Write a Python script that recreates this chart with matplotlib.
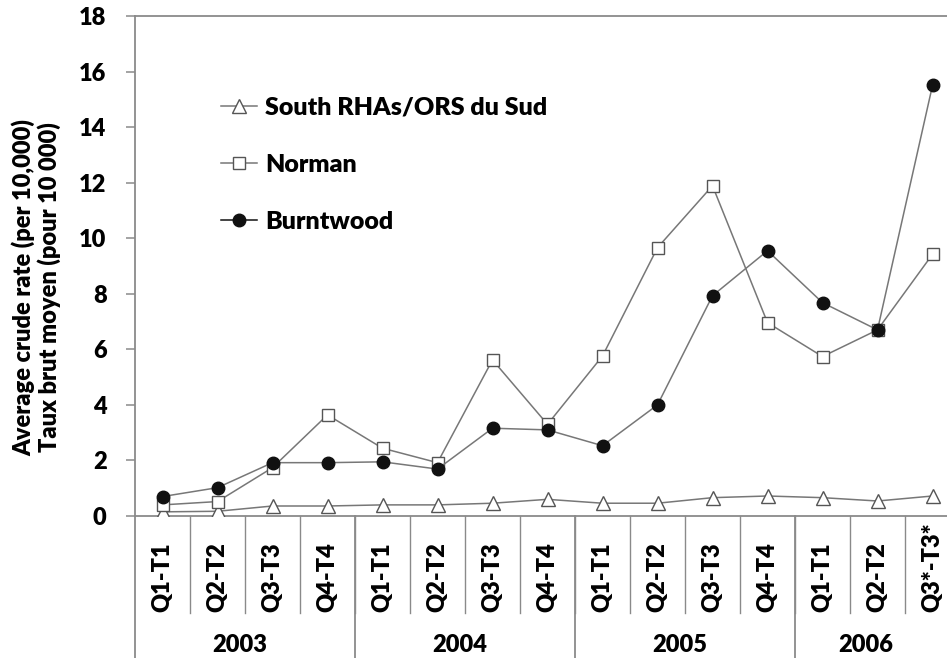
import numpy as np
import matplotlib
matplotlib.use("Agg")
import matplotlib.pyplot as plt
import matplotlib.transforms as mtransforms

plt.rcParams['font.family'] = ['Lato', 'DejaVu Sans']
plt.rcParams['font.weight'] = 'bold'

quarters = ['Q1-T1', 'Q2-T2', 'Q3-T3', 'Q4-T4',
            'Q1-T1', 'Q2-T2', 'Q3-T3', 'Q4-T4',
            'Q1-T1', 'Q2-T2', 'Q3-T3', 'Q4-T4',
            'Q1-T1', 'Q2-T2', 'Q3*-T3*']
years = ['2003', '2004', '2005', '2006']
year_sizes = [4, 4, 4, 3]

south = [0.15, 0.17, 0.36, 0.36, 0.40, 0.40, 0.46, 0.60,
         0.46, 0.46, 0.66, 0.72, 0.66, 0.54, 0.72]
norman = [0.40, 0.52, 1.74, 3.64, 2.44, 1.92, 5.62, 3.30,
          5.76, 9.66, 11.89, 6.96, 5.74, 6.70, 9.42]
burntwood = [0.70, 1.02, 1.92, 1.92, 1.95, 1.69, 3.16, 3.10,
             2.53, 4.00, 7.93, 9.55, 7.68, 6.70, 15.50]

line_col = '#777777'
axis_col = '#8a8a8a'
fw = 'heavy'

fig = plt.figure(figsize=(9.47, 6.58), dpi=100)
ax = fig.add_axes([135/947, 1-516/658, 812/947, 500/658])

x = np.arange(len(quarters))
ax.plot(x, south, color=line_col, lw=1.1, marker='^', ms=9.5, mfc='white',
        mec='#555555', mew=1.0, label='South RHAs/ORS du Sud', zorder=3)
ax.plot(x, norman, color=line_col, lw=1.1, marker='s', ms=8.5, mfc='white',
        mec='#555555', mew=1.0, label='Norman', zorder=4)
ax.plot(x, burntwood, color=line_col, lw=1.1, marker='o', ms=9, mfc='#111111',
        mec='#111111', label='Burntwood', zorder=5)

xmax = -0.5 + 812/55
ax.set_xlim(-0.5, xmax)
ax.set_ylim(0, 18)
ax.set_yticks(np.arange(0, 19, 2))
ax.set_xticks([])
ax.tick_params(axis='y', direction='out', length=6.5, width=1.1, color=axis_col,
               pad=14, labelsize=17)
for lab in ax.get_yticklabels():
    lab.set_fontweight(fw)
ax.spines['right'].set_visible(False)
for s in ['left', 'top', 'bottom']:
    ax.spines[s].set_color(axis_col)
    ax.spines[s].set_linewidth(1.3)

leg = ax.legend(loc='upper left', bbox_to_anchor=(0.106, 0.838), frameon=False,
                prop={'size': 18, 'weight': fw}, handlelength=1.45, handletextpad=0.3,
                labelspacing=1.4, borderpad=0, borderaxespad=0)
leg.legend_handles[2].set_color('#111111')

ax.text(-0.121, 0.457, 'Average crude rate (per 10,000)\nTaux brut moyen (pour 10 000)',
        transform=ax.transAxes, rotation=90, ha='center', va='center',
        multialignment='center', fontsize=17, fontweight=fw, linespacing=1.1)

# category axis below the plot
trans = mtransforms.blended_transform_factory(ax.transData, ax.transAxes)
px = 1/500
for i in range(1, len(quarters)):
    ax.plot([i-0.5, i-0.5], [0, -97*px], color=axis_col, lw=1.0,
            transform=trans, clip_on=False)
for i, q in enumerate(quarters):
    ax.text(i, -96*px, q, transform=trans, rotation=90, ha='center', va='bottom',
            fontsize=17, fontweight=fw)

start = 0
for yr, n in zip(years, year_sizes):
    ax.plot([start-0.5, start-0.5], [0, -150*px], color=axis_col, lw=1.3,
            transform=trans, clip_on=False)
    right = min(start + 3.5, xmax)
    ax.text((start - 0.5 + right) / 2 - 0.1, -129*px, yr, transform=trans,
            ha='center', va='center', fontsize=17, fontweight=fw)
    start += n

fig.savefig('out.png', dpi=100)
